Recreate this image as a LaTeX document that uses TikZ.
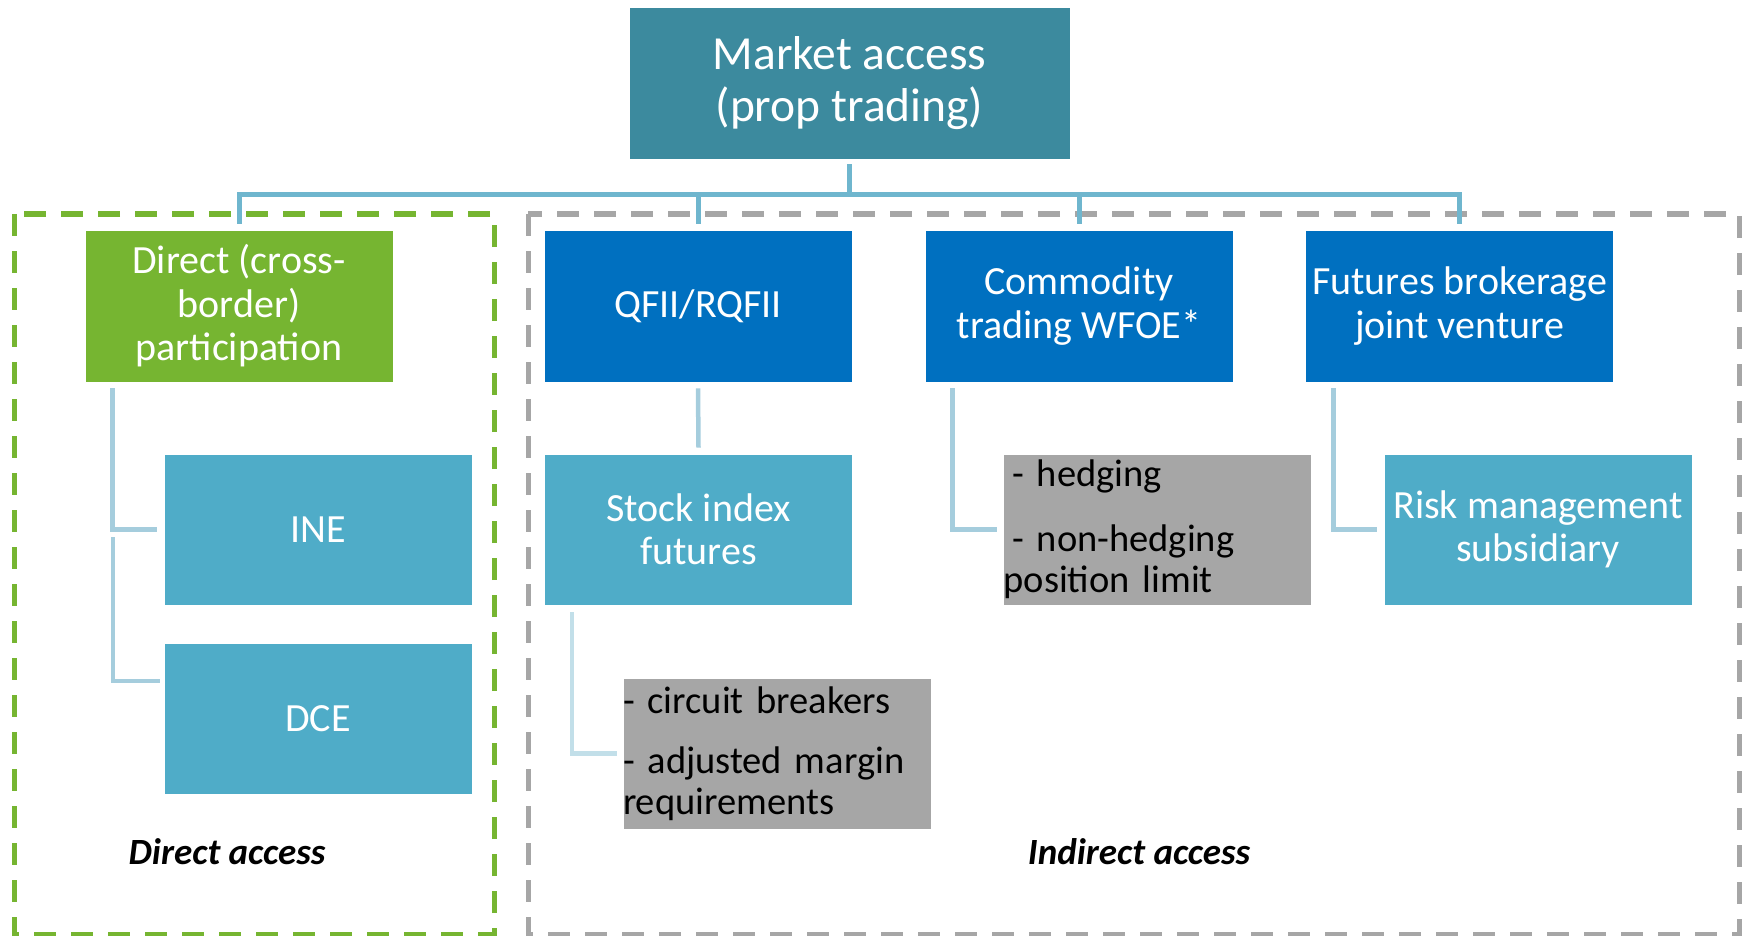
\documentclass[tikz,border=0pt]{standalone}
\usepackage{fontspec}
\setmainfont{Carlito}
\definecolor{topc}{HTML}{3C8A9E}
\definecolor{greenc}{HTML}{76B531}
\definecolor{bluec}{HTML}{0070C0}
\definecolor{tealc}{HTML}{4FACC8}
\definecolor{grayc}{HTML}{A6A6A6}
\definecolor{busc}{HTML}{6FB6CE}
\definecolor{subc}{HTML}{A5CDDD}
\definecolor{sublc}{HTML}{C2DFE9}
\tikzset{
  box/.style={rectangle, inner sep=0pt, minimum width=308pt, minimum height=152pt, text=white, align=center, font=\fontsize{40}{43.5}\selectfont, draw=white, line width=0.6pt},
  topbox/.style={box, fill=topc, minimum width=441pt, font=\fontsize{47.5}{52}\selectfont},
  greenbox/.style={box, fill=greenc},
  bluebox/.style={box, fill=bluec},
  tealbox/.style={box, fill=tealc, minimum height=151pt},
  graybox/.style={box, fill=grayc, minimum height=151pt, text=black, align=left, text width=308pt, font=\fontsize{38.5}{41}\selectfont},
  busline/.style={draw=busc, line width=5pt},
  subline/.style={draw=subc, line width=4.5pt},
  sublight/.style={draw=sublc, line width=4.5pt},
  gframe/.style={draw=greenc, line width=5pt, dash pattern=on 22pt off 15pt},
  xframe/.style={draw=grayc, line width=5pt, dash pattern=on 22pt off 15pt},
  lbl/.style={font=\fontsize{37}{41}\selectfont\bfseries\itshape, anchor=base, inner sep=0pt}
}
\begin{document}
\begin{tikzpicture}[x=1pt, y=-1pt]
\useasboundingbox (0,0) rectangle (1742,936);
% frames
\draw[gframe] (14,214) rectangle (494,934);
\draw[xframe] (528,214) rectangle (1739,934);
% nodes
\node[topbox] (top) at (849.5,83) {Market access\\(prop trading)};
\node[greenbox] (direct) at (239,306) {Direct (cross-\\border)\\participation};
\node[bluebox] (qfii) at (698,306) {QFII/RQFII};
\node[bluebox] (comm) at (1079,306) {Commodity\\trading WFOE*};
\node[bluebox] (fut) at (1459.5,306) {Futures brokerage\\joint venture};
\node[tealbox] (ine) at (318,529.5) {INE};
\node[tealbox] (dce) at (318,719) {DCE};
\node[tealbox] (stock) at (698.5,529.5) {Stock index\\futures};
\node[graybox] (circ) at (777,753.5) {- circuit breakers\\[19pt]- adjusted margin\\requirements};
\node[graybox] (hedge) at (1157.5,529.5) {\hspace*{0.226em}- hedging\\[24pt]\hspace*{0.226em}- non-hedging\\position limit};
\node[tealbox] (risk) at (1538,529.5) {Risk management\\subsidiary};
% bus
\coordinate (bus) at (849.5,195);
\draw[busline] ([yshift=-5pt]top.south) -- (top.south |- bus);
\draw[busline, line join=miter] ([yshift=6pt]direct.north) -- (direct.north |- bus) -- (fut.north |- bus) -- ([yshift=6pt]fut.north);
\draw[busline] (qfii.north |- bus) -- ([yshift=6pt]qfii.north);
\draw[busline] (comm.north |- bus) -- ([yshift=6pt]comm.north);
% sub connectors
\draw[subline] ([xshift=28pt,yshift=-6pt]direct.south west) |- ([xshift=-7pt]ine.west);
\coordinate (j1) at (113,537);
\coordinate (j2) at (160,681);
\draw[subline] (j1) |- (j2);
\draw[subline] ([yshift=-6pt]qfii.south) -- ([yshift=6pt]stock.north);
\draw[sublight] ([xshift=28pt,yshift=-7pt]stock.south west) |- ([xshift=-6pt]circ.west);
\draw[subline] ([xshift=28pt,yshift=-6pt]comm.south west) |- ([xshift=-6pt]hedge.west);
\draw[subline] ([xshift=28.5pt,yshift=-6pt]fut.south west) |- ([xshift=-7pt]risk.west);
% labels
\node[lbl] (dlab) at (227,864) {Direct access};
\node[lbl] (ilab) at (1139,864) {Indirect access};
\end{tikzpicture}
\end{document}
